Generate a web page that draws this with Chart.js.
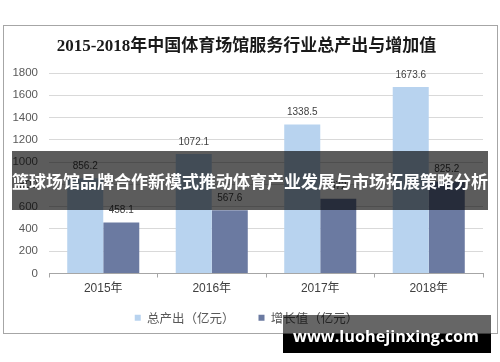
<!DOCTYPE html>
<html>
<head>
<meta charset="utf-8">
<script src="https://cdn.jsdelivr.net/npm/chart.js@4/dist/chart.umd.min.js"></script>
<style>
html,body{margin:0;padding:0;background:#fff;}
#c{display:block;}
</style>
</head>
<body>
<canvas id="c" width="500" height="362"></canvas>
<script>
const categories = ['2015年', '2016年', '2017年', '2018年'];
const totalOutput = [856.2, 1072.1, 1338.5, 1673.6];
const addedValue = [458.1, 567.6, 672, 825.2];
const seriesNames = ['总产出（亿元）', '增长值（亿元）'];
const chartTitle = '2015-2018年中国体育场馆服务行业总产出与增加值';
const bannerText = '篮球场馆品牌合作新模式推动体育产业发展与市场拓展策略分析';
const watermarkText = 'www.luohejinxing.com';
const yMin = 0, yMax = 1800, yStep = 200;

const extras = {
  id: 'extras',
  afterLayout(chart) {
    // let the category labels extend below the (compact) x-axis box without clipping
    const x = chart.scales.x;
    x.bottom = x.top + 30;
  },
  beforeDraw(chart) {
    const ctx = chart.ctx;
    ctx.save();
    ctx.fillStyle = '#fff';
    ctx.fillRect(0, 0, chart.width, chart.height);
    ctx.strokeStyle = '#a6a6a6';
    ctx.lineWidth = 1;
    ctx.strokeRect(3.5, 25.5, 494, 308);
    ctx.restore();
  },
  afterDatasetsDraw(chart) {
    const ctx = chart.ctx;
    ctx.save();
    ctx.font = '10px "Liberation Sans", Arial, sans-serif';
    ctx.fillStyle = '#404040';
    ctx.textAlign = 'center';
    ctx.textBaseline = 'middle';
    chart.data.datasets.forEach((ds, i) => {
      chart.getDatasetMeta(i).data.forEach((bar, j) => {
        ctx.fillText(String(ds.data[j]), bar.x, bar.y - 12);
      });
    });
    ctx.restore();
  },
  afterDraw(chart) {
    const ctx = chart.ctx;
    ctx.save();
    // banner
    ctx.fillStyle = 'rgba(0,0,0,0.64)';
    ctx.fillRect(12, 151, 476, 59);
    ctx.fillStyle = '#fff';
    ctx.font = 'bold 17px "Noto Sans CJK SC", sans-serif';
    ctx.textAlign = 'center';
    ctx.textBaseline = 'middle';
    ctx.fillText(bannerText, 250, 182);
    // watermark
    ctx.fillStyle = 'rgba(0,0,0,0.6)';
    ctx.fillRect(283, 315, 208, 18.5);
    ctx.fillStyle = '#000';
    ctx.fillRect(283, 333.5, 208, 19.5);
    ctx.fillStyle = '#fff';
    ctx.font = 'bold 16px "Open Sans", sans-serif';
    const w = ctx.measureText(watermarkText).width;
    const fs = 16 * 186 / w;
    ctx.font = 'bold ' + fs.toFixed(2) + 'px "Open Sans", sans-serif';
    ctx.fillText(watermarkText, 386, 337);
    ctx.restore();
  }
};

new Chart(document.getElementById('c'), {
  type: 'bar',
  data: {
    labels: categories,
    datasets: [
      { label: seriesNames[0], data: totalOutput, backgroundColor: '#b8d3ef', borderWidth: 0 },
      { label: seriesNames[1], data: addedValue, backgroundColor: '#6b7aa1', borderWidth: 0 }
    ]
  },
  options: {
    responsive: false,
    animation: false,
    devicePixelRatio: 1,
    layout: { padding: { left: 10, right: 17, top: 0, bottom: 28 } },
    datasets: { bar: { categoryPercentage: 0.664, barPercentage: 1.0 } },
    plugins: {
      title: {
        display: true,
        text: chartTitle,
        color: '#1a1a1a',
        font: { family: '"Liberation Serif", "Noto Sans CJK SC", serif', size: 17, weight: 'bold', lineHeight: 1.2 },
        padding: { top: 36.8, bottom: 15.8 }
      },
      legend: {
        position: 'bottom',
        labels: {
          boxWidth: 6, boxHeight: 6,
          padding: 24,
          color: '#595959',
          font: { family: '"Noto Sans CJK SC", sans-serif', size: 12.5 }
        }
      },
      tooltip: { enabled: false }
    },
    scales: {
      x: {
        afterFit(s) { s.height = 14; },
        grid: { display: true, drawOnChartArea: false, drawTicks: true, tickLength: 4, color: '#a6a6a6' },
        border: { display: true, color: '#a6a6a6' },
        ticks: { color: '#404040', padding: 4, font: { family: '"Liberation Sans", "Noto Sans CJK SC", sans-serif', size: 12 } }
      },
      y: {
        min: yMin, max: yMax,
        afterFit(s) { s.width = 39; },
        grid: { color: '#d9d9d9', drawTicks: false },
        border: { display: false },
        ticks: {
          stepSize: yStep, padding: 11, color: '#595959',
          font: { family: '"Liberation Sans", Arial, sans-serif', size: 11.5 },
          callback: (v) => String(v)
        }
      }
    }
  },
  plugins: [extras]
});
</script>
</body>
</html>
